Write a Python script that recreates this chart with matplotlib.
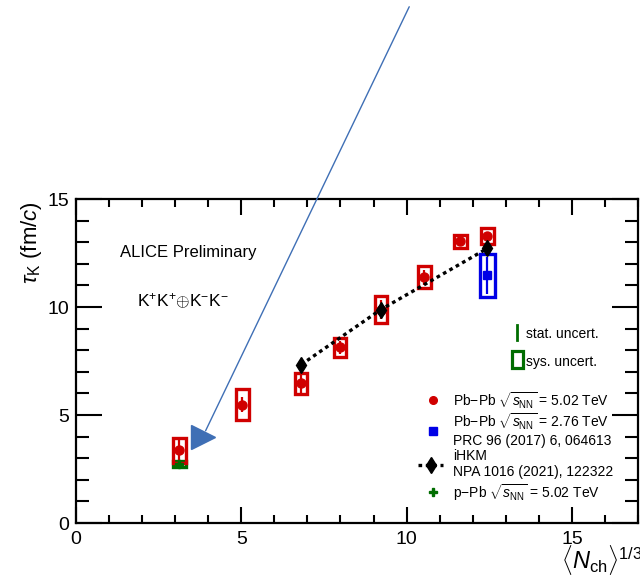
import matplotlib as mpl
mpl.use("Agg")
import matplotlib.pyplot as plt
from matplotlib.patches import Rectangle
import numpy as np

# Pb-Pb 5.02 TeV
x_pbpb = [3.13, 5.03, 6.81, 7.98, 9.22, 10.54, 11.63, 12.44]
tau_pbpb = [3.37, 5.48, 6.46, 8.13, 9.88, 11.38, 13.04, 13.29]
stat_pbpb = [0.55, 0.35, 0.45, 0.30, 0.45, 0.35, 0.15, 0.20]
sys_pbpb = [0.58, 0.72, 0.48, 0.44, 0.63, 0.52, 0.31, 0.37]

# Pb-Pb 2.76 TeV
x_pb276 = [12.44]
tau_pb276 = [11.46]
stat_pb276 = [0.85]
sys_pb276 = [0.98]

# iHKM
x_ihkm = [6.81, 9.22, 12.44]
tau_ihkm = [7.33, 9.88, 12.71]

# p-Pb 5.02 TeV
x_ppb = [3.13]
tau_ppb = [2.72]
stat_ppb = [0.22]
sys_ppb = [0.14]

x_ticks = [0, 5, 10, 15]
y_ticks = [0, 5, 10, 15]

RED = "#d00000"
BLUE = "#0000e6"
GREEN = "#006d00"
ARROW = "#3f6fb5"

plt.rcParams["font.family"] = ["Liberation Sans", "DejaVu Sans"]
plt.rcParams["mathtext.fontset"] = "custom"
plt.rcParams["mathtext.rm"] = "Liberation Sans"
plt.rcParams["mathtext.it"] = "Liberation Sans:italic"
plt.rcParams["mathtext.sf"] = "Liberation Sans"

W, H = 640, 584
fig = plt.figure(figsize=(W / 100, H / 100), dpi=100)
ax = fig.add_axes([76 / W, 61 / H, 562 / W, 324 / H])


def sys_boxes(xs, ys, errs, color, half=0.19):
    for x, y, e in zip(xs, ys, errs):
        ax.add_patch(Rectangle((x - half, y - e), 2 * half, 2 * e, fill=False,
                               edgecolor=color, lw=2.4, zorder=3))


sys_boxes(x_ppb, tau_ppb, sys_ppb, GREEN)
sys_boxes(x_pbpb, tau_pbpb, sys_pbpb, RED)
sys_boxes(x_pb276, tau_pb276, sys_pb276, BLUE, half=0.22)

ax.errorbar(x_ppb, tau_ppb, yerr=stat_ppb, fmt="P", color=GREEN, ms=5.5,
            elinewidth=1.5, capsize=0, zorder=4)
ax.errorbar(x_pbpb, tau_pbpb, yerr=stat_pbpb, fmt="o", color=RED, ms=6.5,
            elinewidth=1.6, capsize=0, zorder=4)
ax.errorbar(x_pb276, tau_pb276, yerr=stat_pb276, fmt="s", color=BLUE, ms=5.5,
            elinewidth=1.6, capsize=0, zorder=4)
ax.plot(x_ihkm, tau_ihkm, color="black", lw=2.4, dashes=(1.1, 1.1),
        marker="d", ms=8.5, zorder=5)

ax.set_xlim(0, 17)
ax.set_ylim(0, 15)
ax.set_xticks(x_ticks)
ax.set_yticks(y_ticks)
ax.set_xticks(np.arange(0, 17.5, 1), minor=True)
ax.set_yticks(np.arange(0, 15.5, 1), minor=True)
ax.tick_params(which="both", direction="in", top=True, right=True, width=1.5,
               labelsize=14)
ax.tick_params(axis="x", which="major", length=11.5, pad=6)
ax.tick_params(axis="x", which="minor", length=5.8)
ax.tick_params(axis="y", which="major", length=19, pad=5)
ax.tick_params(axis="y", which="minor", length=9.5)
for s in ax.spines.values():
    s.set_linewidth(1.6)

# axis titles (ROOT style)
fig.text(32 / W, 1 - 243 / H, r"$\tau_{\rm K}$ (fm/$c$)", rotation=90,
         ha="center", va="center", fontsize=16)
fig.text(643 / W, 1 - 569 / H, r"$\langle N_{\rm ch}\rangle^{1/3}$",
         ha="right", va="baseline", fontsize=17)

fig.text(120 / W, 1 - 257 / H, "ALICE Preliminary", fontsize=12,
         va="baseline")
fig.text(137 / W, 1 - 307 / H, r"K$^{+}$K$^{+}$$\oplus$K$^{-}$K$^{-}$",
         fontsize=12.5, va="baseline")


# legend, drawn by hand
def fx(px):
    return (px - 76) / 562


def fy(py):
    return (523 - py) / 324


T = ax.transAxes
LFS = 10
ax.plot([fx(517)] * 2, [fy(340), fy(325)], color=GREEN, lw=2, transform=T,
        clip_on=False)
ax.add_patch(Rectangle((fx(512), fy(368)), fx(523) - fx(512), fy(351) - fy(368),
                       fill=False, edgecolor=GREEN, lw=2.3, transform=T))
ax.text(fx(526), fy(334), "stat. uncert.", transform=T, va="center",
        fontsize=LFS)
ax.text(fx(526), fy(362), "sys. uncert.", transform=T, va="center",
        fontsize=LFS)

ax.plot(fx(433), fy(400), "o", color=RED, ms=5.5, transform=T)
ax.plot(fx(433), fy(431), "s", color=BLUE, ms=5.5, transform=T)
ax.plot([fx(418), fx(443)], [fy(465)] * 2, color="black", lw=2.4,
        dashes=(1.1, 1.1), transform=T, clip_on=False)
ax.plot(fx(431), fy(465), "d", color="black", ms=8.5, transform=T)
ax.plot(fx(433), fy(492), "P", color=GREEN, ms=5.5, transform=T)

leg = [
    (400.5, r"Pb$-$Pb $\sqrt{s_{\rm NN}}$ = 5.02 TeV"),
    (421.5, r"Pb$-$Pb $\sqrt{s_{\rm NN}}$ = 2.76 TeV"),
    (441, "PRC 96 (2017) 6, 064613"),
    (455.5, "iHKM"),
    (472, "NPA 1016 (2021), 122322"),
    (492.5, r"p$-$Pb $\sqrt{s_{\rm NN}}$ = 5.02 TeV"),
]
for py, s in leg:
    ax.text(fx(453), fy(py), s, transform=T, va="center", fontsize=LFS)

# arrow drawn over the figure
ax.annotate("", xy=(3.92, 4.27), xytext=(10.08, 23.9), annotation_clip=False,
            arrowprops=dict(arrowstyle="-", color=ARROW, lw=1.0,
                            shrinkA=0, shrinkB=0))
ax.plot(3.85, 3.98, ">", color=ARROW, ms=17, clip_on=False, zorder=6)

fig.text(-0.005, -0.021, "ALI-PREL-510969", color="#909090", fontsize=11,
         va="baseline")

fig.savefig("out.png", dpi=100)
